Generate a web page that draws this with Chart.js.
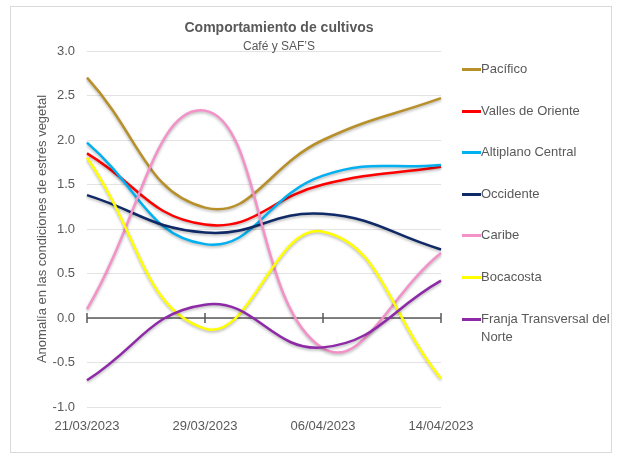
<!DOCTYPE html>
<html>
<head>
<meta charset="utf-8">
<script src="https://cdn.jsdelivr.net/npm/chart.js@4"></script>
<style>
  body { margin: 0; background: #fff; font-family: "Liberation Sans", Arial, sans-serif; }
  #wrap { position: relative; width: 619px; height: 459px; }
  #frame { position: absolute; left: 10px; top: 6px; width: 600px; height: 445px; border: 1px solid #d9d9d9; }
  canvas { position: absolute; left: 0; top: 0; }
  .titulo { position: absolute; left: 179px; width: 200px; text-align: center; color: #595959; white-space: nowrap; }
  #t1 { top: 19px; font-size: 14px; font-weight: bold; }
  #t2 { top: 39px; font-size: 12px; }
  .item { position: absolute; left: 462px; font-size: 13px; color: #595959; line-height: 18px; }
  .item .linea { position: absolute; left: 0; top: 8px; width: 19px; height: 3px; }
  .item .txt { position: absolute; left: 19px; top: 0; width: 140px; }
</style>
</head>
<body>
<div id="wrap">
  <div id="frame"></div>
  <canvas id="grafico" width="619" height="459"></canvas>
  <div class="titulo" id="t1">Comportamiento de cultivos</div>
  <div class="titulo" id="t2">Café y SAF’S</div>
  <div id="leyenda"></div>
</div>
<script>
// fechas del eje x
const fechas = ["21/03/2023", "29/03/2023", "06/04/2023", "14/04/2023"];

// series por región
const pacifico   = [2.70, 1.24, 2.00, 2.47];
const valles     = [1.85, 1.05, 1.50, 1.70];
const altiplano  = [1.97, 0.83, 1.60, 1.72];
const occidente  = [1.38, 0.96, 1.17, 0.77];
const caribe     = [0.10, 2.33, -0.34, 0.73];
const bocacosta  = [1.80, -0.12, 0.97, -0.68];
const franja     = [-0.70, 0.15, -0.33, 0.42];

const nombres = ["Pacífico", "Valles de Oriente", "Altiplano Central", "Occidente", "Caribe", "Bocacosta", "Franja Transversal del Norte"];
const valores = [pacifico, valles, altiplano, occidente, caribe, bocacosta, franja];
const colores = ["#B8902A", "#FF0000", "#00B0F0", "#0F2A66", "#F391C8", "#FFFF00", "#8E2AA8"];

// marcas del eje y
const yMin = -1, yMax = 3, yPaso = 0.5;

const gris = "#595959";

// leyenda a la derecha
const leyenda = document.getElementById("leyenda");
nombres.forEach((n, i) => {
    const d = document.createElement("div");
    d.className = "item";
    d.style.top = (60 + i * 41.6) + "px";
    d.innerHTML = `<span class="linea" style="background:${colores[i]}"></span><span class="txt">${n}</span>`;
    leyenda.appendChild(d);
});

// eje horizontal en cero con marcas cruzadas
const ejeCero = {
    id: "ejeCero",
    beforeDatasetsDraw(chart) {
        const { ctx, chartArea, scales } = chart;
        const y0 = scales.y.getPixelForValue(0);
        ctx.save();
        ctx.strokeStyle = gris;
        ctx.lineWidth = 1.5;
        ctx.beginPath();
        ctx.moveTo(chartArea.left, y0);
        ctx.lineTo(chartArea.right, y0);
        fechas.forEach((f, i) => {
            const x = scales.x.getPixelForValue(i);
            ctx.moveTo(x, y0 - 5);
            ctx.lineTo(x, y0 + 5);
        });
        ctx.stroke();
        ctx.restore();
    }
};

// sombra suave de las líneas
const sombra = {
    id: "sombra",
    beforeDatasetDraw(chart) {
        const ctx = chart.ctx;
        ctx.save();
        ctx.shadowColor = "rgba(0,0,0,0.3)";
        ctx.shadowBlur = 3;
        ctx.shadowOffsetY = 1.5;
    },
    afterDatasetDraw(chart) {
        chart.ctx.restore();
    }
};

new Chart(document.getElementById("grafico").getContext("2d"), {
    type: "line",
    data: {
        labels: fechas,
        datasets: nombres.map((n, i) => ({
            label: n,
            data: valores[i],
            borderColor: colores[i],
            backgroundColor: colores[i],
            borderWidth: 2.5,
            pointRadius: 0,
            tension: 0.45,
            fill: false,
            order: nombres.length - 1 - i
        }))
    },
    options: {
        responsive: false,
        animation: false,
        devicePixelRatio: 1,
        layout: { padding: { left: 10, top: 51, right: 178, bottom: 22 } },
        plugins: { legend: { display: false }, tooltip: { enabled: false } },
        scales: {
            x: {
                offset: false,
                grid: { display: false, drawTicks: false },
                border: { display: false },
                ticks: { color: gris, font: { size: 13, family: "Liberation Sans" }, padding: 12, maxRotation: 0, autoSkip: false },
                afterFit: s => { s.height = 30; }
            },
            y: {
                min: yMin,
                max: yMax,
                grid: { color: "#e3e3e3", drawTicks: false },
                border: { display: false },
                ticks: {
                    stepSize: yPaso,
                    color: gris,
                    padding: 12,
                    font: { size: 13, family: "Liberation Sans" },
                    callback: v => v.toFixed(1)
                },
                title: {
                    display: true,
                    text: "Anomalía en las condiciones de estrés vegetal",
                    color: gris,
                    font: { size: 13, family: "Liberation Sans" },
                    padding: { top: 25, bottom: 0 }
                },
                afterFit: s => { s.width = 77; }
            }
        }
    },
    plugins: [ejeCero, sombra]
});
</script>
</body>
</html>
